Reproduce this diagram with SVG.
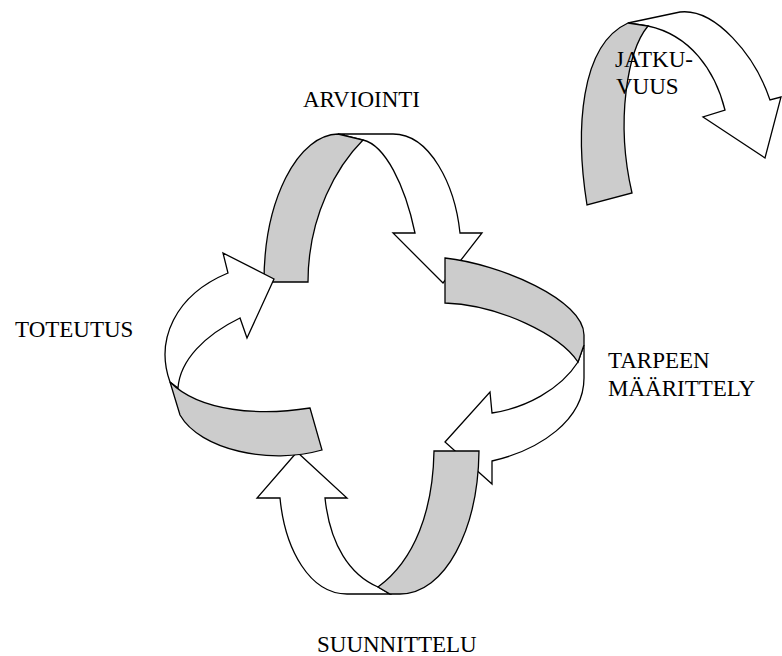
<svg xmlns="http://www.w3.org/2000/svg" width="782" height="656" viewBox="0 0 782 656">
<style>
.g{fill:#cccccc;stroke:#000;stroke-width:1.3;stroke-linejoin:miter}
.w{fill:#ffffff;stroke:#000;stroke-width:1.3;stroke-linejoin:miter}
text{font-family:'Liberation Serif','Times New Roman',Tinos,'DejaVu Serif',serif;font-size:23px;fill:#000}
</style>
<rect width="782" height="656" fill="#ffffff"/>
<g id="connectors">
  <g id="arrow-arviointi">
    <path class="w" d="M338,134 L393,134 C430,134 455,185 460,233 L482,233 L443,283 L393,233 L415,233 C405,185 385,145 363,140 Z"/>
    <path class="g" d="M264,282 A75,148 0 0 1 338,134 L363,140 C338,165 308,215 308,282 Z"/>
  </g>
  <g id="arrow-tarpeen">
    <path class="w" d="M584,345 L578,362 C560,390 525,408 492,413 L490,392 L445,442 L492,484 L492,461 C540,450 584,420 584,378 Z"/>
    <path class="g" d="M445,258 C500,264 584,300 584,335 L584,345 L578,362 C560,335 500,305 445,303 Z"/>
  </g>
  <g id="arrow-suunnittelu">
    <path class="w" d="M390,594 L347,594 C310,594 285,550 280,498 L257,498 L297,452 L347,498 L325,498 C330,545 350,575 378,587 Z"/>
    <path class="g" d="M434,451 L479,451 C478,530 445,594 400,594 L390,594 L378,587 C415,560 433,510 434,451 Z"/>
  </g>
  <g id="arrow-toteutus">
    <path class="w" d="M170,382 C155,340 175,295 228,273 L223,253 L274,279 L247,338 L240,318 C205,335 180,360 178,388 Z"/>
    <path class="g" d="M310,408 L322,450 C270,465 200,450 180,415 L170,382 C200,412 260,416 310,408 Z"/>
  </g>
  <g id="arrow-jatkuvuus">
    <path class="w" d="M628,23 L680,12 C715,8 755,55 770,100 L781,97 L765,158 L703,117 L725,110 C715,70 690,35 648,26 Z"/>
    <path class="g" d="M587,205 C575,130 580,45 628,23 L648,26 C628,50 615,120 632,193 Z"/>
  </g>
</g>
<g id="node-arviointi"><text x="303" y="107">ARVIOINTI</text></g>
<g id="node-toteutus"><text x="15" y="337">TOTEUTUS</text></g>
<g id="node-tarpeen"><text x="608" y="368">TARPEEN</text><text x="608" y="396">MÄÄRITTELY</text></g>
<g id="node-suunnittelu"><text x="317" y="652">SUUNNITTELU</text></g>
<g id="node-jatkuvuus"><text x="615" y="67">JATKU-</text><text x="616" y="94">VUUS</text></g>
</svg>
